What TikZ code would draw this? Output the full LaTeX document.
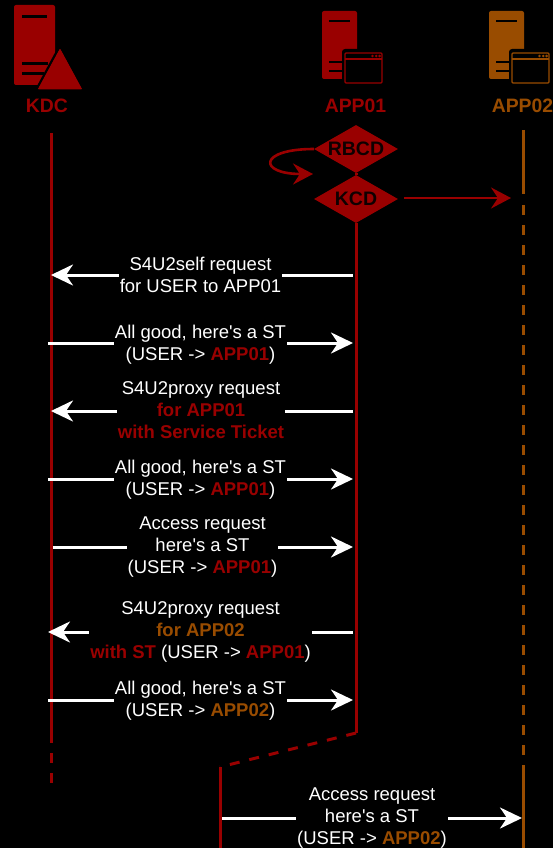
\documentclass[tikz,border=0pt]{standalone}
\usepackage{fontspec}
\newfontfamily\kfont{Liberation Sans}
\usetikzlibrary{arrows.meta,shapes.geometric}
\definecolor{kred}{HTML}{990000}
\definecolor{korg}{HTML}{994C00}
\newcommand\rb[1]{\textbf{\textcolor{kred}{#1}}}
\newcommand\ob[1]{\textbf{\textcolor{korg}{#1}}}
\tikzset{
 msg/.style={draw=white,line width=3pt,-{Stealth[length=22pt,width=21pt,inset=7pt,fill=white]}},
 lbl/.style={fill=black,text=white,align=center,inner xsep=1pt,inner ysep=0pt,font=\kfont\fontsize{18.5}{22}\selectfont},
 life/.style={line width=3pt},
 dsh/.style={line width=3pt,dash pattern=on 10pt off 10pt},
 dia/.style={diamond,aspect=1.75,fill=kred,inner sep=0pt,minimum width=84pt,minimum height=48pt,text=black!90!kred,font=\kfont\fontsize{19.5}{22}\selectfont\bfseries},
 title/.style={font=\kfont\fontsize{19.4}{22}\selectfont\bfseries,inner sep=0pt},
 tip/.style={-{Stealth[length=20pt,width=21pt,inset=7pt,fill=kred]}},
 server/.pic={
  \fill[pic actions,rounded corners=2pt] (0,0) rectangle (35,68);
  \fill[black] (7,9) rectangle (28,11.5);
  \fill[black] (7,50) rectangle (22,52.5);
  \fill[black] (7,59) rectangle (22,61.5);
  \fill[black,rounded corners=3pt] (20,38) rectangle (62,73);
  \draw[pic actions,fill=black,line width=1.3pt,rounded corners=1pt] (23,42) rectangle (60,72);
  \draw[pic actions,line width=1.1pt] (23,48) -- (60,48);
  \fill[pic actions] (50.5,45) circle (1.4pt) (54.2,45) circle (1.4pt) (57.6,45) circle (1.4pt);
 }
}
\begin{document}
\begin{tikzpicture}[x=1pt,y=-1pt]
\useasboundingbox (0,0) rectangle (553,848);
\fill[black] (0,0) rectangle (553,848);

% KDC icon
\fill[kred,rounded corners=2pt] (14,5) rectangle (55,85);
\fill[black] (22,15.5) rectangle (47,18.5);
\fill[black] (22,62) rectangle (48,65);
\fill[black] (22,72) rectangle (44,75);
\filldraw[kred,draw=black,line width=2.5pt,line join=round] (60,46) -- (84,90.5) -- (36,90.5) -- cycle;
\fill[kred,rounded corners=1pt] (60,48.5) -- (82.3,89.5) -- (37.7,89.5) -- cycle;
\node[title,text=kred] (kdc) at (47,105.5) {KDC};

% APP icons
\pic[kred] at (322,11) {server};
\pic[korg] at (489,11) {server};
\node[title,text=kred] (app1) at (355.5,105.5) {APP01};
\node[title,text=korg] (app2) at (522.5,105.5) {APP02};

% diamonds
\node[dia] (rbcd) at (356,149) {RBCD};
\node[dia] (kcd) at (356,199) {KCD};
\draw[kred,life] (rbcd.south) -- (kcd.north);

% lifelines
\coordinate (kT) at (51,133);
\coordinate (kM) at (51,743);
\coordinate (kB) at (51,785);
\coordinate (aM) at (356,733);
\coordinate (aL) at (220,767);
\coordinate (aB) at (220,848);
\coordinate (oT) at (523.5,130);
\coordinate (oM) at (523.5,194);
\coordinate (oN) at (523.5,772);
\coordinate (oB) at (523.5,848);
\draw[kred,life] (kT) -- (kM);
\draw[kred,dsh] (kM) ++(0,10) -- (kB);
\draw[kred,life] (kcd.south) -- (aM);
\draw[kred,dsh] (aM) -- (aL);
\draw[kred,life] (aL) -- (aB);
\draw[korg,life] (oT) -- (oM);
\draw[korg,dsh] (523.5,205) -- (oN);
\draw[korg,life] (oN) -- (oB);

% delegation arrows
\coordinate (kArrow) at (511,198);
\coordinate (rEnd) at (313,174);
\draw[kred,line width=2.6pt,tip] (rbcd.west) .. controls (258,149) and (258,174) .. (rEnd);
\draw[kred,line width=2.6pt,tip] (404,198) -- (kArrow);

% message end points
\foreach \n/\xa/\xb/\y in {1/353/51/275,2/48/353/343,3/353/51/411,4/48/353/479,5/53/353/547,6/353/48/632,7/48/353/700,8/222/522/818}{
  \coordinate (s\n) at (\xa,\y);
  \coordinate (e\n) at (\xb,\y);
  \draw[msg] (s\n) -- (e\n);
}

% labels
\node[lbl] (l1) at (200.5,275) {S4U2self request\\for USER to APP01};
\node[lbl] (l2) at (200.5,345) {All good, here's a ST\\(USER -> \rb{APP01})};
\node[lbl] (l3) at (201,410) {S4U2proxy request\\\rb{for APP01}\\\rb{with Service Ticket}};
\node[lbl] (l4) at (200.5,480) {All good, here's a ST\\(USER -> \rb{APP01})};
\node[lbl] (l5) at (202.5,547) {Access request\\here's a ST\\(USER -> \rb{APP01})};
\node[lbl] (l6) at (200.5,632) {S4U2proxy request\\\ob{for APP02}\\\rb{with ST} (USER -> \rb{APP01})};
\node[lbl] (l7) at (200.5,701) {All good, here's a ST\\(USER -> \ob{APP02})};
\node[lbl] (l8) at (372,818) {Access request\\here's a ST\\(USER -> \ob{APP02})};
\end{tikzpicture}
\end{document}
